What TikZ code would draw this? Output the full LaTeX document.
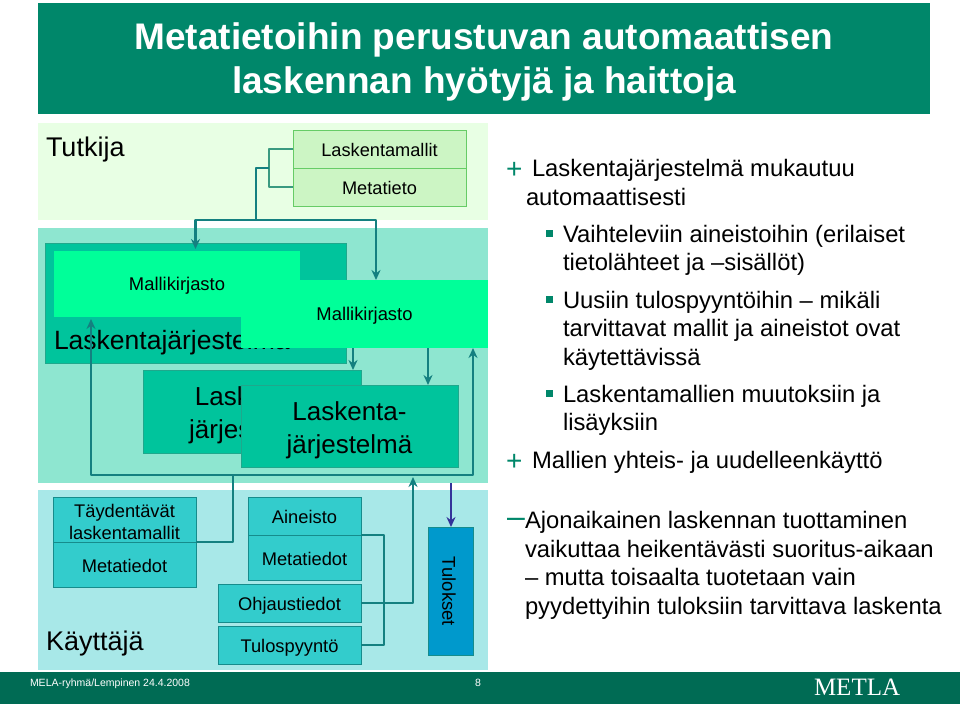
\documentclass[tikz,border=0pt]{standalone}
\usepackage{fontspec}
\setmainfont{Liberation Sans}
\newfontfamily\logofont{Liberation Serif}
\usetikzlibrary{arrows.meta}
\definecolor{titlegreen}{HTML}{00876A}
\definecolor{footgreen}{HTML}{006B54}
\definecolor{bandA}{HTML}{E8FFE4}
\definecolor{bandB}{HTML}{8EE6D0}
\definecolor{bandC}{HTML}{A8E8E8}
\definecolor{modelfill}{HTML}{CCF5C4}
\definecolor{modelline}{HTML}{66CC66}
\definecolor{sysfill}{HTML}{00C49C}
\definecolor{sysline}{HTML}{1FA88C}
\definecolor{libfill}{HTML}{00FF99}
\definecolor{userfill}{HTML}{33CCCC}
\definecolor{userline}{HTML}{168C8C}
\definecolor{resfill}{HTML}{0099CC}
\definecolor{conn}{HTML}{148080}
\definecolor{bracket}{HTML}{3A9A80}
\definecolor{blueconn}{HTML}{333399}
\newcommand{\dn}[2]{\raisebox{-#1pt}[\height][\depth]{#2}}
\tikzset{
  x=1pt,y=-1pt,
  boxbase/.style={anchor=north west,inner sep=0pt,outer sep=0pt,align=center,text=black},
  modelbox/.style={boxbase,draw=modelline,fill=modelfill,line width=1pt,font=\fontsize{18.2}{20}\selectfont},
  sysbox/.style={boxbase,draw=sysline,fill=sysfill,line width=1pt,font=\fontsize{26}{33}\selectfont},
  libbox/.style={boxbase,fill=libfill,font=\fontsize{18.4}{20}\selectfont},
  userbox/.style={boxbase,draw=userline,fill=userfill,line width=1pt,font=\fontsize{18.3}{22}\selectfont},
  band/.style={boxbase},
  conline/.style={draw=conn,line width=2.7pt,line join=round},
  conarrow/.style={conline,-{Stealth[length=10pt,width=9pt]}},
  lbl/.style={anchor=base west,inner sep=0pt,outer sep=0pt,text=black},
  bulletlbl/.style={lbl,font=\fontsize{23.8}{28}\selectfont},
  marker/.style={lbl,text=titlegreen},
}
\begin{document}
\begin{tikzpicture}
\useasboundingbox (0,0) rectangle (960,706);
\fill[white] (0,0) rectangle (960,706);
\node[boxbase,fill=titlegreen,text=white,minimum width=892pt,minimum height=111pt] (title) at (38,3) {};
\node[anchor=center,inner sep=0pt,text=white,font=\bfseries\fontsize{37}{44}\selectfont,align=center] (titletext) at (484,62) {Metatietoihin perustuvan automaattisen\\laskennan hyötyjä ja haittoja};
\node[band,fill=bandA,minimum width=450pt,minimum height=97pt] (tutkijaband) at (38,123) {};
\node[band,fill=bandB,minimum width=450pt,minimum height=255pt] (systemband) at (38,228) {};
\node[band,fill=bandC,minimum width=450pt,minimum height=180pt] (userband) at (38,490) {};
\node[lbl,font=\fontsize{27}{32}\selectfont] (tutkija) at (46,156) {Tutkija};
\node[lbl,font=\fontsize{27}{32}\selectfont] (kayttaja) at (46,650) {Käyttäjä};
% back system
\node[sysbox,minimum width=301pt,minimum height=120pt] (sys1) at (45,243) {};
\node[libbox,minimum width=246pt,minimum height=66pt] (lib1) at (54,251) {\dn{2}{Mallikirjasto}};
\node[lbl,font=\fontsize{26.5}{32}\selectfont] (sys1t) at (54,349) {Laskentajärjestelmä};
\node[sysbox,minimum width=218pt,minimum height=83pt] (sys2) at (143,370) {\dn{3.5}{Laskenta-}\\\dn{3.5}{järjestelmä}};
\node[libbox,minimum width=247pt,minimum height=68pt] (lib2) at (241,280) {\dn{2}{Mallikirjasto}};
\node[sysbox,minimum width=217pt,minimum height=82pt] (sys3) at (241,385) {\dn{4}{Laskenta-}\\\dn{4}{järjestelmä}};
% models
\node[modelbox,minimum width=173pt,minimum height=38pt] (lm) at (293,130) {\dn{1}{Laskentamallit}};
\node[modelbox,minimum width=173pt,minimum height=38pt] (mt) at (293,168) {\dn{1}{Metatieto}};
% user
\node[userbox,minimum width=143pt,minimum height=45pt] (td) at (53,497) {\dn{2}{Täydentävät}\\\dn{2}{laskentamallit}};
\node[userbox,minimum width=143pt,minimum height=45pt] (md) at (53,542) {\dn{1}{Metatiedot}};
\node[userbox,minimum width=113pt,minimum height=38pt] (ai) at (248,497) {\dn{1}{Aineisto}};
\node[userbox,minimum width=113pt,minimum height=45pt] (me) at (248,535) {\dn{1}{Metatiedot}};
\node[userbox,minimum width=143pt,minimum height=38pt] (oh) at (218,584) {\dn{3}{Ohjaustiedot}};
\node[userbox,minimum width=143pt,minimum height=38pt] (tp) at (218,626) {\dn{3}{Tulospyyntö}};
\node[boxbase,draw=userline,fill=resfill,line width=1pt,minimum width=45pt,minimum height=128pt] (res) at (428,527) {};
\node[rotate=-90,inner sep=0pt,font=\fontsize{18.5}{22}\selectfont] (restext) at (449,591.5) {Tulokset};
% connectors
\coordinate (j1) at (269,149);
\coordinate (j2) at (269,187);
\coordinate (j3) at (269,168);
\coordinate (j4) at (256,168);
\coordinate (j5) at (256,220);
\coordinate (j6) at (195.5,220);
\coordinate (j7) at (376,220);
\draw[conline,draw=bracket] (lm.west) -- (j1) -- (j2) -- (mt.west);
\draw[conline] (j3) -- (j4) -- (j5);
\coordinate (j6e) at (195.5,249);
\draw[conarrow] (j5) -- (j6) -- (j6e);
\draw[conarrow] (j5) -- (j7) -- (lib2.north -| j7);
\coordinate (d1) at (353,348);
\coordinate (d1e) at (353,370);
\coordinate (d2) at (428,348);
\coordinate (d2e) at (428,385);
\draw[conarrow] (d1) -- (d1e);
\draw[conarrow] (d2) -- (d2e);
\coordinate (f0) at (233,542);
\coordinate (f1) at (233,475);
\coordinate (f2) at (91,475);
\coordinate (f2e) at (91,319);
\coordinate (f3) at (473,475);
\coordinate (f3e) at (473,348);
\draw[conline] (td.south east) -- (f0) -- (f1);
\draw[conarrow] (f1) -- (f2) -- (f2e);
\draw[conarrow] (f1) -- (f3) -- (f3e);
\coordinate (a1) at (384,535);
\coordinate (a2) at (384,645);
\draw[conline] (me.north east) -- (a1) -- (a2) -- (tp.east);
\coordinate (b1) at (413,603);
\coordinate (b2) at (413,477);
\draw[conarrow] (oh.east) -- (b1) -- (b2);
\coordinate (r0) at (451,483);
\draw[draw=blueconn,line width=2.7pt,-{Stealth[length=10pt,width=9pt]}] (r0) -- (res.north -| r0);
% footer
\node[boxbase,fill=footgreen,minimum width=960pt,minimum height=32pt] (foot) at (0,672) {};
\node[lbl,text=white,font=\fontsize{10.5}{13}\selectfont] (footl) at (30,686.5) {MELA-ryhmä/Lempinen 24.4.2008};
\node[lbl,text=white,font=\fontsize{10.5}{13}\selectfont] (footn) at (475,686.5) {8};
\node[lbl,text=white,font=\logofont\fontsize{25}{28}\selectfont] (logo) at (814,695) {METLA};
% right text
\node[marker,font=\fontsize{28}{28}\selectfont] (p1) at (506,178) {+};
\node[bulletlbl] (t1) at (532,176) {Laskentajärjestelmä mukautuu};
\node[bulletlbl] (t2) at (526,205) {automaattisesti};
\fill[titlegreen] (546,230) rectangle (553,237);
\node[bulletlbl] (t3) at (563,242) {Vaihteleviin aineistoihin (erilaiset};
\node[bulletlbl] (t4) at (563,270) {tietolähteet ja –sisällöt)};
\fill[titlegreen] (546,296) rectangle (553,303);
\node[bulletlbl] (t5) at (563,308) {Uusiin tulospyyntöihin – mikäli};
\node[bulletlbl] (t6) at (563,336) {tarvittavat mallit ja aineistot ovat};
\node[bulletlbl] (t7) at (563,365) {käytettävissä};
\fill[titlegreen] (546,390) rectangle (553,397);
\node[bulletlbl] (t8) at (563,402) {Laskentamallien muutoksiin ja};
\node[bulletlbl] (t9) at (563,430) {lisäyksiin};
\node[marker,font=\fontsize{28}{28}\selectfont] (p2) at (506,470) {+};
\node[bulletlbl] (t10) at (532,468) {Mallien yhteis- ja uudelleenkäyttö};
\node[marker,font=\fontsize{32}{32}\selectfont] (m1) at (507,527.5) {–};
\node[bulletlbl] (t11) at (525,528) {Ajonaikainen laskennan tuottaminen};
\node[bulletlbl] (t12) at (525,557) {vaikuttaa heikentävästi suoritus-aikaan};
\node[bulletlbl] (t13) at (525,585) {– mutta toisaalta tuotetaan vain};
\node[bulletlbl] (t14) at (525,614) {pyydettyihin tuloksiin tarvittava laskenta};
\end{tikzpicture}
\end{document}
